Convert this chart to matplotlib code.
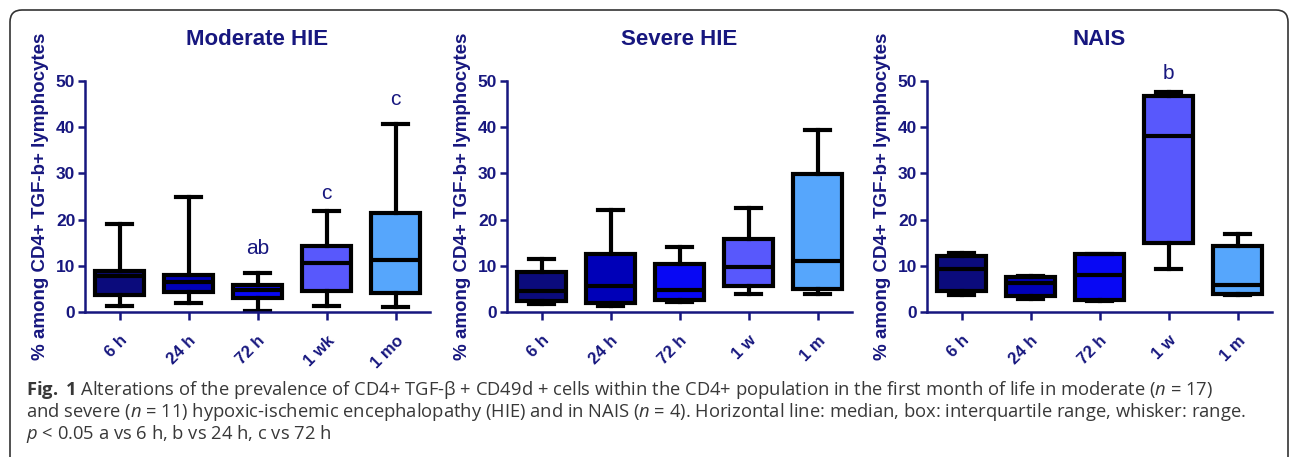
import numpy as np
import matplotlib
matplotlib.use("Agg")
import matplotlib.pyplot as plt
from matplotlib.patches import FancyBboxPatch

# data (% among CD4+ TGF-b+ lymphocytes)
titles = ["Moderate HIE", "Severe HIE", "NAIS"]
labels = [["6 h", "24 h", "72 h", "1 wk", "1 mo"],
          ["6 h", "24 h", "72 h", "1 w", "1 m"],
          ["6 h", "24 h", "72 h", "1 w", "1 m"]]

# moderate HIE
mod_lo = [1.3, 2.0, 0.2, 1.2, 1.1]
mod_q1 = [3.6, 4.3, 3.0, 4.5, 4.2]
mod_med = [7.7, 6.5, 4.7, 10.5, 11.3]
mod_q3 = [8.8, 8.0, 5.9, 14.2, 21.5]
mod_hi = [19.0, 24.9, 8.5, 21.9, 40.6]

# severe HIE
sev_lo = [1.7, 1.3, 2.2, 4.0, 4.0]
sev_q1 = [2.4, 2.0, 2.5, 5.6, 4.9]
sev_med = [4.5, 5.7, 4.8, 9.7, 11.0]
sev_q3 = [8.6, 12.5, 10.4, 15.7, 29.9]
sev_hi = [11.5, 22.0, 14.0, 22.6, 39.4]

# NAIS
nais_lo = [3.6, 2.8, 2.3, 9.4, 3.7]
nais_q1 = [4.6, 3.5, 2.6, 15.0, 4.0]
nais_med = [9.4, 6.3, 8.0, 38.0, 5.8]
nais_q3 = [12.2, 7.5, 12.5, 46.8, 14.2]
nais_hi = [12.7, 7.7, 12.5, 47.7, 16.8]

# significance letters: (box index, y, text)
mod_marks = [(2, 13.7, "ab"), (3, 25.6, "c"), (4, 45.9, "c")]
sev_marks = []
nais_marks = [(3, 51.7, "b")]

panels = [(mod_lo, mod_q1, mod_med, mod_q3, mod_hi, mod_marks),
          (sev_lo, sev_q1, sev_med, sev_q3, sev_hi, sev_marks),
          (nais_lo, nais_q1, nais_med, nais_q3, nais_hi, nais_marks)]

box_colors = ["#0b0b7c", "#0000b8", "#0808f4", "#5858fc", "#56a6fc"]
navy = "#17177f"

plt.rcParams["font.family"] = ["Liberation Sans", "DejaVu Sans"]
plt.rcParams["mathtext.fontset"] = "custom"
plt.rcParams["mathtext.rm"] = "Open Sans"
plt.rcParams["mathtext.it"] = "Open Sans:italic"
plt.rcParams["mathtext.bf"] = "Open Sans:bold"

W, H = 1290, 457
fig = plt.figure(figsize=(W / 100, H / 100), dpi=100)

lefts = [85, 507, 927]
for k, (lo, q1, med, q3, hi, marks) in enumerate(panels):
    ax = fig.add_axes([lefts[k] / W, (H - 312) / H, 345 / W, 231 / H])
    stats = []
    for i in range(5):
        stats.append(dict(whislo=lo[i], q1=q1[i], med=med[i], q3=q3[i],
                          whishi=hi[i], fliers=[]))
    bp = ax.bxp(stats, positions=range(5), widths=0.7, capwidths=0.36,
                patch_artist=True, showfliers=False,
                boxprops=dict(linewidth=3, edgecolor="black"),
                medianprops=dict(color="black", linewidth=3),
                whiskerprops=dict(color="black", linewidth=3),
                capprops=dict(color="black", linewidth=3))
    for patch, c in zip(bp["boxes"], box_colors):
        patch.set_facecolor(c)
    for i, y, t in marks:
        ax.text(i, y, t, ha="center", va="center", fontsize=15,
                color=navy, clip_on=False)

    ax.set_xlim(-0.5, 4.5)
    ax.set_ylim(0, 50)
    ax.set_yticks([0, 10, 20, 30, 40, 50])
    ax.set_xticks(range(5))
    ax.set_xticklabels(labels[k], rotation=45, ha="right",
                       rotation_mode="anchor")
    for s in ["top", "right"]:
        ax.spines[s].set_visible(False)
    for s in ["left", "bottom"]:
        ax.spines[s].set_color(navy)
        ax.spines[s].set_linewidth(1.8)
    ax.tick_params(colors=navy, width=1.8, length=5)
    ax.tick_params(axis="y", labelsize=12.5, pad=2)
    ax.tick_params(axis="x", length=6, pad=9, labelsize=12)
    for lab in ax.get_xticklabels() + ax.get_yticklabels():
        lab.set_fontweight("bold")
        lab.set_color(navy)
    ax.set_title(titles[k], fontsize=16, fontweight="bold", color=navy,
                 pad=26)
    ax.set_ylabel("% among CD4+ TGF-b+ lymphocytes", fontsize=13.5,
                  fontweight="bold", color=navy)
    ax.yaxis.set_label_coords(-0.129, 0.5)
    ax.yaxis.label.set_va("center")
    ax.patch.set_visible(False)

# frame around figure part
frame = FancyBboxPatch((0.10, -1.0), 12.78, 5.47,
                       boxstyle="round,pad=0,rounding_size=0.12",
                       transform=fig.dpi_scale_trans, fill=False,
                       edgecolor="#333333", linewidth=1.2, clip_on=False)
fig.patches.append(frame)

cap_kw = dict(fontsize=13.2, family="Open Sans", color="#383838",
              ha="left", va="baseline")
fig.text(26 / W, 1 - 395 / H,
         r"$\mathbf{Fig.}$ $\mathbf{1}$ Alterations of the prevalence of CD4+ TGF-β + CD49d + cells "
         r"within the CD4+ population in the first month of life in moderate ($\mathit{n}$ = 17)",
         **cap_kw)
fig.text(26 / W, 1 - 417 / H,
         r"and severe ($\mathit{n}$ = 11) hypoxic-ischemic encephalopathy (HIE) and in NAIS "
         r"($\mathit{n}$ = 4). Horizontal line: median, box: interquartile range, whisker: range.",
         **cap_kw)
fig.text(26 / W, 1 - 439 / H,
         r"$\mathit{p}$ < 0.05 a vs 6 h, b vs 24 h, c vs 72 h", **cap_kw)

fig.savefig("out.png", dpi=100)
